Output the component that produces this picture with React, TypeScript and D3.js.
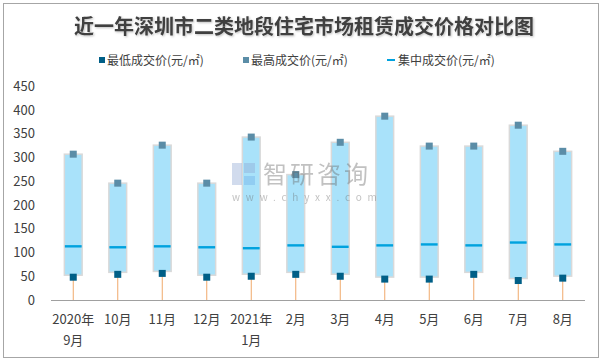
import { useEffect, useRef } from 'react'
import * as d3 from 'd3'

const months = ['2020年\n9月', '10月', '11月', '12月', '2021年\n1月', '2月', '3月', '4月', '5月', '6月', '7月', '8月']
const lowPrice = [48, 54, 56, 48, 50, 54, 50, 44, 44, 54, 41, 46]
const highPrice = [307, 246, 326, 246, 343, 264, 332, 387, 324, 324, 368, 313]
const midPrice = [113, 111, 113, 111, 109, 115, 112, 115, 117, 115, 121, 117]
const yTicks = [0, 50, 100, 150, 200, 250, 300, 350, 400, 450]

const W = 603
const H = 363
const FONT = '"Noto Sans CJK SC", "Noto Sans", sans-serif'

export default function App() {
  const svgRef = useRef<SVGSVGElement>(null)

  useEffect(() => {
    const svg = d3.select(svgRef.current)
    svg.selectAll('*').remove()

    const rows = months.map((m, i) => ({ m, lo: lowPrice[i], hi: highPrice[i], mid: midPrice[i] }))

    const x = d3.scaleBand().domain(months).range([51, 585]).paddingInner(0.6).paddingOuter(0.3)
    const y = d3.scaleLinear().domain([0, 450]).range([300, 86.25])

    svg.append('rect').attr('x', 0).attr('y', 0).attr('width', W).attr('height', H).attr('fill', '#fff')
    svg.append('rect').attr('x', 3.5).attr('y', 3.5).attr('width', 595).attr('height', 354)
      .attr('fill', 'none').attr('stroke', '#a6a6a6').attr('stroke-width', 1)

    const defs = svg.append('defs')
    defs.append('filter').attr('id', 'ts').append('feDropShadow')
      .attr('dx', 1).attr('dy', 1).attr('stdDeviation', 0.8).attr('flood-color', '#000').attr('flood-opacity', 0.25)

    svg.append('text').attr('x', 304).attr('y', 34).attr('text-anchor', 'middle')
      .attr('font-family', FONT).attr('font-size', 20).attr('font-weight', 'bold').attr('fill', '#404040')
      .attr('filter', 'url(#ts)')
      .text('近一年深圳市二类地段住宅市场租赁成交价格对比图')

    // legend
    const leg = svg.append('g').attr('font-family', FONT).attr('font-size', 12).attr('fill', '#404040')
    leg.append('rect').attr('x', 99).attr('y', 57).attr('width', 6).attr('height', 6).attr('fill', '#005f87')
    leg.append('text').attr('x', 107).attr('y', 65).text('最低成交价(元/㎡)')
    leg.append('rect').attr('x', 243).attr('y', 57).attr('width', 6).attr('height', 6).attr('fill', '#5b8da7')
    leg.append('text').attr('x', 251).attr('y', 65).text('最高成交价(元/㎡)')
    leg.append('rect').attr('x', 387).attr('y', 59).attr('width', 8).attr('height', 2).attr('fill', '#00a2de')
    leg.append('text').attr('x', 398).attr('y', 65).text('集中成交价(元/㎡)')

    // y labels
    svg.append('g').selectAll('text').data(yTicks).join('text')
      .attr('x', 35).attr('y', (d) => y(d)).attr('dy', '0.35em').attr('text-anchor', 'end')
      .attr('font-family', FONT).attr('font-size', 13).attr('fill', '#404040')
      .text((d) => d)

    const bw = x.bandwidth()
    const cx = (d) => (x(d.m) ?? 0) + bw / 2

    // drop lines
    svg.append('g').selectAll('line').data(rows).join('line')
      .attr('x1', cx).attr('x2', cx).attr('y1', (d) => y(d.lo)).attr('y2', y(0))
      .attr('stroke', '#f0a96b').attr('stroke-width', 1)

    // range bars
    svg.append('g').selectAll('rect').data(rows).join('rect')
      .attr('x', (d) => x(d.m) ?? 0).attr('width', bw)
      .attr('y', (d) => y(d.hi)).attr('height', (d) => y(d.lo) - y(d.hi) - 2)
      .attr('fill', '#a9e2fa').attr('stroke', '#d9d9d9').attr('stroke-width', 1.5)

    // mid line
    svg.append('g').selectAll('rect').data(rows).join('rect')
      .attr('x', (d) => (x(d.m) ?? 0) + 0.5).attr('width', bw - 1)
      .attr('y', (d) => y(d.mid) - 1.2).attr('height', 2.4).attr('fill', '#00a2de')

    // axis line
    svg.append('line').attr('x1', 51).attr('x2', 585).attr('y1', 300.5).attr('y2', 300.5)
      .attr('stroke', '#a0a0a0').attr('stroke-width', 1)

    // markers
    svg.append('g').selectAll('rect').data(rows).join('rect')
      .attr('x', (d) => cx(d) - 3.5).attr('y', (d) => y(d.hi) - 3.5).attr('width', 7).attr('height', 7)
      .attr('fill', '#5b8da7')
    svg.append('g').selectAll('rect').data(rows).join('rect')
      .attr('x', (d) => cx(d) - 3.5).attr('y', (d) => y(d.lo) - 3.5).attr('width', 7).attr('height', 7)
      .attr('fill', '#005f87')

    // watermark (drawn over the bars, as in the source)
    const wm = svg.append('g').attr('opacity', 0.4)
    wm.append('rect').attr('x', 232).attr('y', 163).attr('width', 10).attr('height', 22).attr('fill', '#8fa8d4')
    wm.append('rect').attr('x', 244).attr('y', 163).attr('width', 11).attr('height', 10).attr('fill', '#8fa8d4')
    wm.append('rect').attr('x', 244).attr('y', 176).attr('width', 11).attr('height', 9).attr('fill', '#6fb0e8')
    wm.append('text').attr('x', 263).attr('y', 183).attr('font-family', FONT).attr('font-size', 24)
      .attr('fill', '#666').attr('letter-spacing', 3).text('智研咨询')
    wm.append('text').attr('x', 232).attr('y', 201).attr('font-family', FONT).attr('font-size', 10)
      .attr('fill', '#666').attr('letter-spacing', 5.8).text('www.chyxx.com')

    // x labels
    const xl = svg.append('g').attr('font-family', FONT).attr('font-size', 13).attr('fill', '#404040')
    rows.forEach((d) => {
      const lines = d.m.split('\n')
      lines.forEach((t, k) => {
        xl.append('text').attr('x', cx(d)).attr('y', 324 + k * 21).attr('text-anchor', 'middle').text(t)
      })
    })
  }, [])

  return (
    <svg ref={svgRef} width={W} height={H} style={{ display: 'block', position: 'absolute', left: 0, top: 0 }} />
  )
}
